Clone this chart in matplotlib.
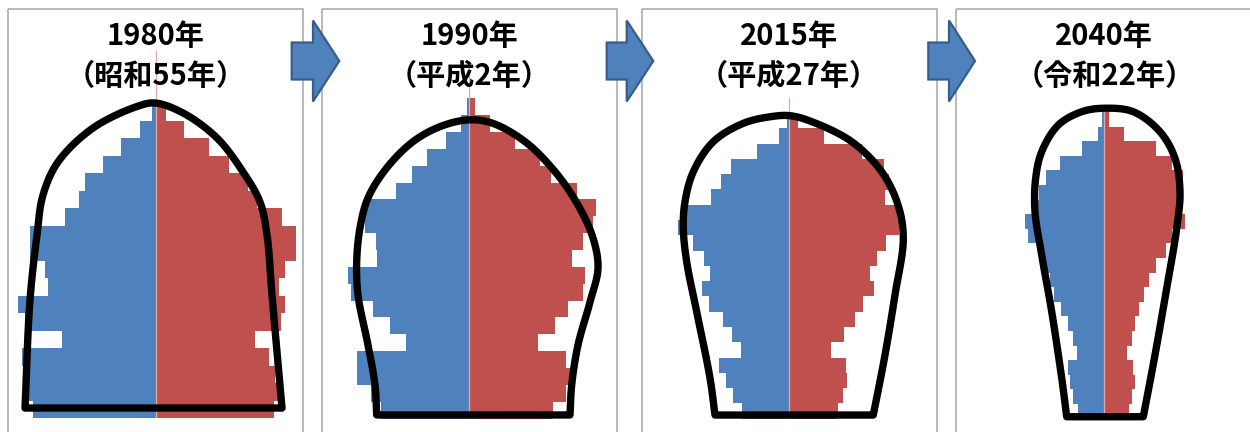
import numpy as np
import matplotlib
matplotlib.use("Agg")
import matplotlib.pyplot as plt
from matplotlib.patches import Rectangle, Polygon

plt.rcParams["font.family"] = ["Noto Sans CJK JP", "DejaVu Sans"]

# age groups, bottom to top
AGE_GROUPS = ["0-4", "5-9", "10-14", "15-19", "20-24", "25-29", "30-34",
              "35-39", "40-44", "45-49", "50-54", "55-59", "60-64", "65-69",
              "70-74", "75-79", "80-84", "85-89", "90-94", "95-99", "100+"]

YEAR_LABELS = ["1980年", "1990年", "2015年", "2040年"]
ERA_LABELS = ["（昭和55年）", "（平成2年）", "（平成27年）", "（令和22年）"]

male_1980 = [123, 128, 127, 134, 94, 131, 138, 108, 111, 126, 126,
             91, 77, 71, 53, 35, 16, 4, 0, 0, 0]
female_1980 = [118, 122, 119, 113, 99, 125, 129, 123, 129, 140, 140,
               126, 101, 92, 73, 53, 28, 10, 0, 0, 0]

male_1990 = [88, 98, 112, 112, 63, 79, 96, 118, 121, 92, 93,
             104, 103, 73, 57, 42, 23, 8, 2, 0, 0]
female_1990 = [84, 97, 105, 97, 69, 86, 99, 114, 116, 103, 114,
               124, 127, 108, 82, 71, 46, 21, 6, 1, 0]

male_2015 = [47, 56, 63, 70, 48, 57, 66, 80, 87, 79, 85,
             96, 111, 106, 78, 68, 58, 32, 10, 2, 0]
female_2015 = [49, 54, 58, 57, 42, 55, 66, 74, 85, 81, 88,
               97, 110, 110, 96, 100, 95, 73, 35, 9, 0]

male_2040 = [26, 31, 34, 36, 27, 31, 36, 43, 50, 54, 59,
             65, 76, 79, 67, 65, 58, 44, 22, 6, 2]
female_2040 = [25, 28, 31, 29, 23, 28, 31, 35, 40, 45, 52,
               62, 68, 81, 75, 76, 79, 68, 52, 20, 5]

MALES = [male_1980, male_1990, male_2015, male_2040]
FEMALES = [female_1980, female_1990, female_2015, female_2040]

# hand-drawn shape outlines around each pyramid (value units, age-row units)
OUTLINES = [
    [(-130.5, 0.07), (-125.5, 6.24), (-118.5, 9.96), (-112.5, 12.24),
     (-97.5, 14.13), (-62.5, 16.07), (-18.5, 17.3), (-0.5, 17.5),
     (27.5, 16.93), (61.5, 15.5), (87.5, 13.56), (104.5, 11.84),
     (111.5, 9.96), (116.5, 6.53), (126.5, 0.07)],
    [(-92.6, -0.29), (-94.3, 1.49), (-101.3, 3.86), (-111.3, 6.83),
     (-112.6, 8.81), (-109.3, 10.81), (-101.3, 12.59), (-82.6, 14.37),
     (-56.3, 15.93), (-29.3, 16.82), (-1.3, 17.22), (22.4, 17.04),
     (55.7, 15.93), (85.7, 14.15), (108.7, 12.17), (123.7, 10.21),
     (128.7, 8.43), (120.7, 6.41), (108.7, 3.86), (102.4, 1.49),
     (100.7, -0.29)],
    [(-74, -0.26), (-79, 2.16), (-92.3, 6.5), (-102.3, 9.77),
     (-105.7, 11.98), (-104, 13.7), (-95.7, 15.66), (-75.7, 17.63),
     (-45.7, 18.83), (-19, 19.26), (1, 19.33), (22.7, 18.94),
     (62.7, 17.63), (92.7, 15.66), (109, 13.49), (114.3, 11.31),
     (106, 7.6), (96, 3.67), (84.3, -0.26)],
    [(-37.6, -0.38), (-42.6, 2.27), (-52.6, 6.82), (-62.6, 10.7),
     (-69.3, 13.66), (-68.6, 15.97), (-62.6, 17.77), (-46, 19.6),
     (-22.6, 20.51), (0, 20.75), (29, 20.51), (55.7, 19.14),
     (70.7, 17.32), (75.7, 15.03), (72.4, 12.53), (62.4, 8.42),
     (50.7, 3.85), (39, -0.38)],
]

# layout (figure pixels)
W, H = 1250, 432
CENTER_PX = [155.5, 469.3, 789.0, 1104.3]
ROW_PX = [17.5, 16.85, 15.28, 14.6]
BASE_PX = [418.0, 418.5, 418.7, 418.5]
HALF = 140
BOXES = [(8, 303), (322.3, 616.7), (642.3, 936.7), (955.7, 1262)]
ARROWS = [(291.7, 313, 339.3), (606.7, 626.7, 653.3), (928.3, 949, 975)]

BLUE = "#4f81bd"
RED = "#c0504d"


def centripetal_curve(points, yscale, n=30, alpha=0.5):
    # smooth the freehand outline through its points (computed in pixel-like space)
    P = np.asarray(points, float) * [1.0, yscale]
    P = np.vstack([2 * P[0] - P[1], P, 2 * P[-1] - P[-2]])
    out = []
    for i in range(len(P) - 3):
        p0, p1, p2, p3 = P[i:i + 4]
        t0 = 0.0
        t1 = t0 + np.linalg.norm(p1 - p0) ** alpha
        t2 = t1 + np.linalg.norm(p2 - p1) ** alpha
        t3 = t2 + np.linalg.norm(p3 - p2) ** alpha
        t = np.linspace(t1, t2, n, endpoint=False)[:, None]
        a1 = (t1 - t) / (t1 - t0) * p0 + (t - t0) / (t1 - t0) * p1
        a2 = (t2 - t) / (t2 - t1) * p1 + (t - t1) / (t2 - t1) * p2
        a3 = (t3 - t) / (t3 - t2) * p2 + (t - t2) / (t3 - t2) * p3
        b1 = (t2 - t) / (t2 - t0) * a1 + (t - t0) / (t2 - t0) * a2
        b2 = (t3 - t) / (t3 - t1) * a2 + (t - t1) / (t3 - t1) * a3
        out.append((t2 - t) / (t2 - t1) * b1 + (t - t1) / (t2 - t1) * b2)
    out.append(P[-2][None])
    curve = np.vstack(out)
    return curve / [1.0, yscale]


def main():
    fig = plt.figure(figsize=(W / 100, H / 100), dpi=100)
    ages = np.arange(len(AGE_GROUPS))

    for k in range(4):
        n = len(AGE_GROUPS)
        left = (CENTER_PX[k] - HALF) / W
        bottom = (H - BASE_PX[k]) / H
        ax = fig.add_axes([left, bottom, 2 * HALF / W, n * ROW_PX[k] / H])
        ax.patch.set_alpha(0)
        ax.barh(ages, -np.array(MALES[k]), height=1.0, color=BLUE, linewidth=0)
        ax.barh(ages, FEMALES[k], height=1.0, color=RED, linewidth=0)
        ax.plot([0, 0], [-0.5, n - 0.5], color="#e3a9a8", lw=0.9, zorder=3)
        curve = centripetal_curve(OUTLINES[k], ROW_PX[k])
        ax.add_patch(Polygon(curve, closed=True, facecolor="none",
                             edgecolor="black", lw=5.3, joinstyle="round",
                             clip_on=False, zorder=4))
        ax.set_xlim(-HALF, HALF)
        ax.set_ylim(-0.5, n - 0.5)
        ax.axis("off")

    top = fig.add_axes([0, 0, 1, 1])
    top.patch.set_alpha(0)
    top.set_xlim(0, W)
    top.set_ylim(H, 0)
    top.axis("off")

    for x0, x1 in BOXES:
        top.add_patch(Rectangle((x0, 9), x1 - x0, 440, facecolor="none",
                                edgecolor="#a6a6a6", lw=1.1, clip_on=False))

    for xs, xb, xt in ARROWS:
        yc, sh, hh = 61, 18.5, 40.5
        pts = [(xs, yc - sh), (xb, yc - sh), (xb, yc - hh), (xt, yc),
               (xb, yc + hh), (xb, yc + sh), (xs, yc + sh)]
        top.add_patch(Polygon(pts, closed=True, facecolor=BLUE,
                              edgecolor="#385d8a", lw=1.6, zorder=5))

    for k in range(4):
        top.text(CENTER_PX[k], 36, YEAR_LABELS[k], ha="center", va="center",
                 fontsize=21, fontweight="bold", zorder=6)
        top.text(CENTER_PX[k], 76, ERA_LABELS[k], ha="center", va="center",
                 fontsize=21, fontweight="bold", zorder=6)

    fig.savefig("out.png", dpi=100)


if __name__ == "__main__":
    main()
